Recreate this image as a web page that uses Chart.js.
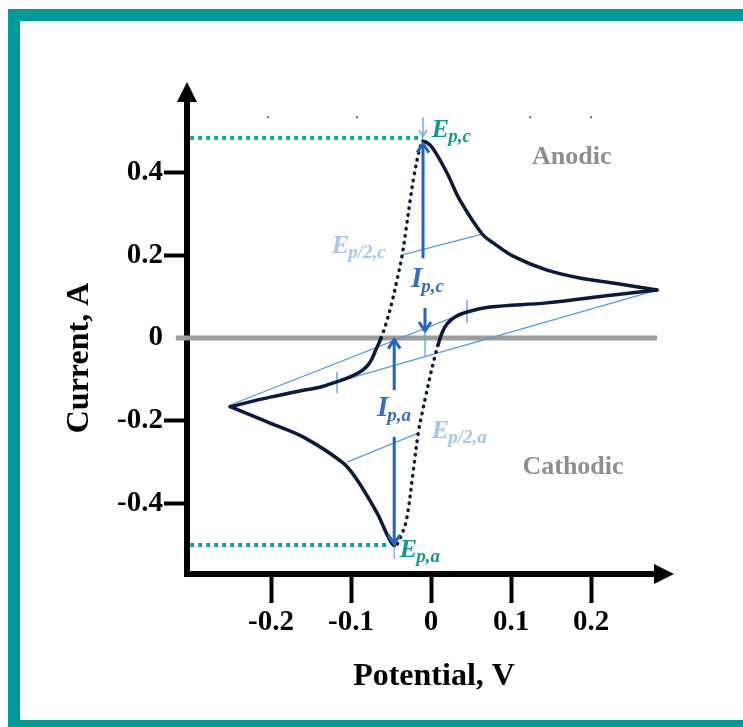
<!DOCTYPE html>
<html>
<head>
<meta charset="utf-8">
<title>Cyclic voltammogram</title>
<script src="https://cdn.jsdelivr.net/npm/chart.js"></script>
<style>
  html, body { margin: 0; padding: 0; width: 743px; height: 727px; overflow: hidden; background: #fff; }
  #frame { position: absolute; left: 8px; top: 9px; width: 820px; height: 723px; box-sizing: border-box; border: 12px solid #009a98; }
  #cv { position: absolute; left: 0; top: 0; }
</style>
</head>
<body>
<div id="frame"></div>
<canvas id="cv" width="743" height="727"></canvas>
<script>
// axis ticks
const xTicks = [-0.2, -0.1, 0, 0.1, 0.2];
const yTicks = [-0.4, -0.2, 0, 0.2, 0.4];

// forward scan (left vertex -> right vertex), potential V / current A
const forwardE = [-0.251, -0.201, -0.164, -0.139, -0.118, -0.101, -0.085, -0.076, -0.069, -0.0625,
  -0.056, -0.049, -0.0425, -0.036, -0.031, -0.026, -0.021, -0.016, -0.0125, -0.010,
  0.001, 0.020, 0.036, 0.064, 0.080, 0.1025, 0.145, 0.186, 0.2275, 0.2825];
const forwardI = [-0.166, -0.143, -0.128, -0.119, -0.106, -0.094, -0.077, -0.058, -0.029, 0.000,
  0.036, 0.085, 0.140, 0.201, 0.266, 0.334, 0.394, 0.443, 0.467, 0.476,
  0.462, 0.399, 0.334, 0.2515, 0.227, 0.198, 0.164, 0.145, 0.133, 0.116];
const forwardDotted = [9, 19];

// reverse scan (right vertex -> left vertex)
const reverseE = [0.2825, 0.2275, 0.145, 0.074, 0.045, 0.030, 0.020, 0.01375, 0.00875, 0.00375,
  -0.00125, -0.00625, -0.011, -0.016, -0.0225, -0.030, -0.036, -0.046, -0.0675, -0.0925,
  -0.110, -0.160, -0.201, -0.251];
const reverseI = [0.116, 0.104, 0.085, 0.075, 0.063, 0.051, 0.034, 0.012, -0.017, -0.053,
  -0.094, -0.138, -0.181, -0.230, -0.326, -0.433, -0.472, -0.503, -0.423, -0.343,
  -0.302, -0.239, -0.206, -0.166];
const reverseDotted = [8, 17];

// construction lines
const baselineAE = [-0.251, 0.045], baselineAI = [-0.162, 0.063];
const baselineBE = [-0.1175, 0.2825], baselineBI = [-0.106, 0.116];
const halfPeakCE = [-0.036, 0.064], halfPeakCI = [0.201, 0.251];
const halfPeakAE = [-0.105, -0.016], halfPeakAI = [-0.300, -0.230];
const tickAE = [-0.1175, -0.1175], tickAI = [-0.082, -0.133];
const tickBE = [0.045, 0.045], tickBI = [0.092, 0.036];
const peakLineCE = [-0.301, -0.010], peakLineCI = [0.484, 0.484];
const peakLineAE = [-0.301, -0.051], peakLineAI = [-0.5006, -0.5006];
const zeroLineE = [-0.319, 0.2825], zeroLineI = [0, 0];
const topDotsE = [-0.204, -0.0925, 0.124, 0.200], topDotsI = [0.534, 0.534, 0.534, 0.534];

const pts = (e, i) => e.map((v, k) => ({ x: v, y: i[k] }));
const navy = '#0b1a3c';
const thinBlue = '#5a98e6';
const teal = '#17968f';

function line(e, i, color, width, extra) {
  return Object.assign({ data: pts(e, i), showLine: true, pointRadius: 0, borderColor: color,
    borderWidth: width, fill: false, clip: false, order: 2 }, extra || {});
}

const dotted = range => ({
  borderDash: c => (c.p0DataIndex >= range[0] && c.p0DataIndex < range[1]) ? [0.5, 6.5] : []
});

// annotations drawn on top, positioned through the chart scales
const overlay = {
  id: 'overlay',
  afterDraw(chart) {
    const { ctx, chartArea: a, scales: { x, y } } = chart;
    const px = v => x.getPixelForValue(v), py = v => y.getPixelForValue(v);
    ctx.save();

    // axis arrowheads
    ctx.fillStyle = '#000';
    ctx.beginPath();
    ctx.moveTo(a.left, a.top - 13); ctx.lineTo(a.left - 10, a.top + 7); ctx.lineTo(a.left + 10, a.top + 7);
    ctx.closePath(); ctx.fill();
    ctx.beginPath();
    ctx.moveTo(a.right + 14, a.bottom); ctx.lineTo(a.right - 6, a.bottom - 10); ctx.lineTo(a.right - 6, a.bottom + 10);
    ctx.closePath(); ctx.fill();

    // vertical arrows
    function arrow(e, i1, i2, color, w, head) {
      const X = px(e), Y1 = py(i1), Y2 = py(i2), dir = Y2 > Y1 ? 1 : -1;
      ctx.strokeStyle = color; ctx.lineWidth = w; ctx.lineCap = 'butt';
      ctx.beginPath(); ctx.moveTo(X, Y1); ctx.lineTo(X, Y2 - dir * 1); ctx.stroke();
      if (head) {
        ctx.lineJoin = 'miter';
        ctx.beginPath();
        ctx.moveTo(X - head, Y2 - dir * head * 1.5); ctx.lineTo(X, Y2); ctx.lineTo(X + head, Y2 - dir * head * 1.5);
        ctx.stroke();
      }
    }
    const blue = '#2463b8';
    arrow(-0.010, 0.193, 0.470, blue, 3, 6);
    arrow(-0.0075, 0.0725, 0.017, blue, 3, 6);
    arrow(-0.0075, 0.017, -0.046, thinBlue, 1.2, 0);
    arrow(-0.046, -0.126, -0.004, blue, 3, 6);
    arrow(-0.046, -0.239, -0.498, blue, 3, 6);
    arrow(-0.010, 0.534, 0.488, '#6fa6ea', 1.5, 4);
    arrow(-0.046, -0.505, -0.537, '#8fb8ee', 1.5, 0);

    // labels with subscripts
    function sub(main, s, e, i, mainSize, subSize, color) {
      const X = px(e), Y = py(i);
      ctx.fillStyle = color; ctx.textBaseline = 'alphabetic'; ctx.textAlign = 'left';
      ctx.font = `italic bold ${mainSize}px 'Liberation Serif', serif`;
      ctx.fillText(main, X, Y);
      const w = ctx.measureText(main).width;
      ctx.font = `italic bold ${subSize}px 'Liberation Serif', serif`;
      ctx.fillText(s, X + w - 1, Y + 5);
    }
    sub('E', 'p,c', 0.001, 0.486, 26, 19, teal);
    sub('E', 'p,a', -0.039, -0.530, 26, 19, teal);
    sub('E', 'p/2,c', -0.124, 0.2056, 26, 19, '#a6c6ea');
    sub('E', 'p/2,a', 0.001, -0.242, 26, 19, '#a6c6ea');
    sub('I', 'p,c', -0.025, 0.123, 29, 19, '#3a6cc0');
    sub('I', 'p,a', -0.0675, -0.189, 29, 19, '#3a6cc0');

    ctx.fillStyle = '#8e8e8e'; ctx.textAlign = 'center'; ctx.textBaseline = 'middle';
    ctx.font = `bold 26px 'Liberation Serif', serif`;
    ctx.fillText('Anodic', px(0.176), py(0.438));
    ctx.fillText('Cathodic', px(0.1775), py(-0.312));

    // axis titles
    ctx.fillStyle = '#000';
    ctx.font = `bold 32px 'Liberation Serif', serif`;
    ctx.fillText('Potential, V', 434, 677);
    ctx.save();
    ctx.translate(80, 358); ctx.rotate(-Math.PI / 2);
    ctx.fillText('Current, A', 0, 0);
    ctx.restore();

    ctx.restore();
  }
};

const tickFont = { family: "'Liberation Serif', serif", size: 29, weight: 'bold', lineHeight: 1.2 };

new Chart(document.getElementById('cv'), {
  type: 'scatter',
  data: {
    datasets: [
      line(zeroLineE, zeroLineI, '#9c9c9c', 5, { order: 10 }),
      line(baselineAE, baselineAI, thinBlue, 1.3),
      line(baselineBE, baselineBI, thinBlue, 1.3),
      line(halfPeakCE, halfPeakCI, thinBlue, 1.3),
      line(halfPeakAE, halfPeakAI, thinBlue, 1.3),
      line(tickAE, tickAI, thinBlue, 1.3),
      line(tickBE, tickBI, thinBlue, 1.3),
      line(peakLineCE, peakLineCI, '#1a9c98', 4, { borderDash: [4, 4], order: 3 }),
      line(peakLineAE, peakLineAI, '#1a9c98', 4, { borderDash: [4, 4], order: 3 }),
      line(forwardE, forwardI, navy, 3.5, { tension: 0.35, borderCapStyle: 'round', borderJoinStyle: 'round',
        segment: dotted(forwardDotted), order: 1 }),
      line(reverseE, reverseI, navy, 3.5, { tension: 0.35, borderCapStyle: 'round', borderJoinStyle: 'round',
        segment: dotted(reverseDotted), order: 1 }),
      { data: pts(topDotsE, topDotsI), pointRadius: 1, pointBackgroundColor: '#444', pointBorderWidth: 0, showLine: false }
    ]
  },
  options: {
    responsive: false,
    animation: false,
    events: [],
    layout: { padding: { left: 40, right: 83, top: 95, bottom: 20 } },
    plugins: { legend: { display: false }, tooltip: { enabled: false } },
    scales: {
      x: {
        type: 'linear', min: -0.305, max: 0.28625,
        afterBuildTicks: s => { s.ticks = xTicks.map(v => ({ value: v })); },
        afterFit: s => { s.height = 133; },
        border: { display: true, color: '#000', width: 6 },
        grid: { display: true, drawOnChartArea: false, drawTicks: true, tickLength: 29, tickWidth: 4, tickColor: '#000' },
        ticks: { autoSkip: false, maxRotation: 0, padding: 2, color: '#000', font: tickFont,
          callback: v => v === 0 ? '0' : v.toFixed(1) }
      },
      y: {
        type: 'linear', min: -0.5707, max: 0.5877,
        afterBuildTicks: s => { s.ticks = yTicks.map(v => ({ value: v })); },
        afterFit: s => { s.width = 147; },
        border: { display: true, color: '#000', width: 6 },
        grid: { display: true, drawOnChartArea: false, drawTicks: true, tickLength: 23, tickWidth: 4,
          tickColor: c => (c.tick && c.tick.value === 0) ? 'rgba(0,0,0,0)' : '#000' },
        ticks: { autoSkip: false, padding: 1, color: '#000', font: tickFont,
          callback: v => v === 0 ? '0' : v.toFixed(1) }
      }
    }
  },
  plugins: [overlay]
});
</script>
</body>
</html>
